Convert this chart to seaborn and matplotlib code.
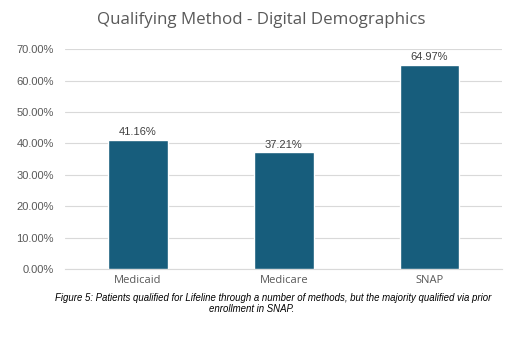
import matplotlib
matplotlib.use("Agg")
import matplotlib.pyplot as plt
import seaborn as sns
import pandas as pd

categories = ["Medicaid", "Medicare", "SNAP"]
values = [41.16, 37.21, 64.97]
yticks = [0, 10, 20, 30, 40, 50, 60, 70]

sns.set_theme(style="white")
plt.rcParams['font.family'] = ['Open Sans', 'DejaVu Sans']

df = pd.DataFrame({"method": categories, "pct": values})

fig = plt.figure(figsize=(5.13, 3.39), dpi=100)
ax = fig.add_axes([0.127, 0.2065, 0.852, 0.6485])
sns.barplot(data=df, x="method", y="pct", color="#175d7c", width=0.41,
            saturation=1, ax=ax, zorder=3)
ax.set_xlim(-0.5, 2.5)
ax.set_ylim(0, 70)
ax.set_yticks(yticks)
ax.set_yticklabels([f"{t:.2f}%" for t in yticks], fontsize=8, color="#595959",
                   family=['Liberation Sans'])
ax.tick_params(axis='x', labelsize=8, colors="#595959", length=0, pad=4)
ax.tick_params(axis='y', length=0, pad=8)
for lab in ax.get_xticklabels():
    lab.set_color("#595959")
ax.set_xlabel("")
ax.set_ylabel("")
ax.grid(axis='y', color="#d9d9d9", linewidth=0.8, zorder=0)
for s in ["top", "right", "left"]:
    ax.spines[s].set_visible(False)
ax.spines["bottom"].set_color("#d9d9d9")
ax.spines["bottom"].set_linewidth(0.8)

for i, v in enumerate(values):
    ax.text(i, v + 0.8, f"{v:.2f}%", ha="center", va="bottom", fontsize=8,
            color="#404040", family=['Liberation Sans'])

fig.text(0.509, 0.94, "Qualifying Method - Digital Demographics", ha="center",
         va="center", fontsize=12.2, color="#595959")
fig.text(0.533, 0.121, "Figure 5: Patients qualified for Lifeline through a number of methods, but the majority qualified via prior",
         ha="center", va="center", fontsize=6.9, style="italic", color="black",
         family=['Liberation Sans'])
fig.text(0.491, 0.088, "enrollment in SNAP.", ha="center", va="center", fontsize=6.9,
         style="italic", color="black", family=['Liberation Sans'])

fig.savefig("out.png", dpi=100)
